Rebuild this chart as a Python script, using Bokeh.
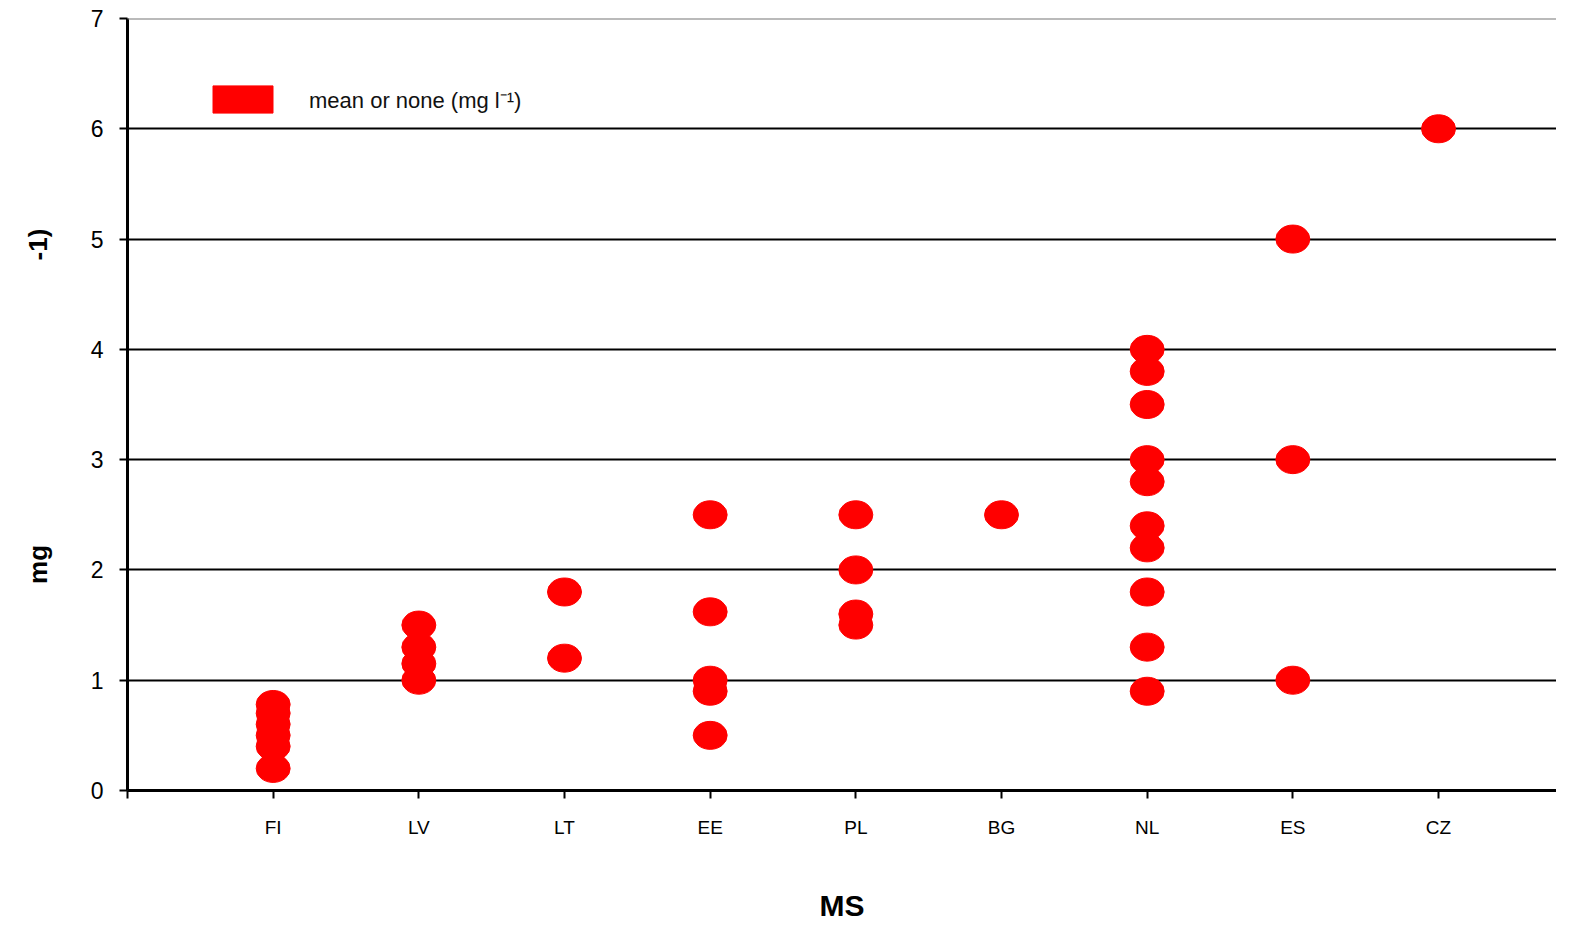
from bokeh.plotting import figure
from bokeh.layouts import row
from bokeh.models import (FixedTicker, Range1d, ColumnDataSource, Legend, LegendItem, Span)
from bokeh.core.properties import value
from bokeh.embed import file_html
from bokeh.resources import INLINE
import math

categories = ["FI", "LV", "LT", "EE", "PL", "BG", "NL", "ES", "CZ"]
values = {
    "FI": [0.2, 0.4, 0.5, 0.6, 0.7, 0.78],
    "LV": [1.0, 1.15, 1.3, 1.5],
    "LT": [1.2, 1.8],
    "EE": [0.5, 0.9, 1.0, 1.62, 2.5],
    "PL": [1.5, 1.6, 2.0, 2.5],
    "BG": [2.5],
    "NL": [0.9, 1.3, 1.8, 2.2, 2.4, 2.8, 3.0, 3.5, 3.8, 4.0],
    "ES": [1.0, 3.0, 5.0],
    "CZ": [6.0],
}
y_ticks = [0, 1, 2, 3, 4, 5, 6, 7]
legend_label = "mean or none (mg l\u207b\u00b9)"
x_title = "MS"
y_title_parts = ["-1)", "mg"]
y_title_pos = [4.95, 2.05]

H = 924
TOP = 18
BOTTOM = 134
LEFTW = 60

xs, ys = [], []
for i, c in enumerate(categories):
    for v in values[c]:
        xs.append(i + 1)
        ys.append(v)
src = ColumnDataSource(dict(x=xs, y=ys))

# left strip carrying the (garbled) y-axis title fragments
left = figure(width=LEFTW, height=H, output_backend="svg", toolbar_location=None,
              x_range=Range1d(0, LEFTW), y_range=Range1d(0, 7),
              min_border_left=0, min_border_right=0, min_border_top=TOP, min_border_bottom=BOTTOM)
left.axis.visible = False
left.grid.visible = False
left.outline_line_color = None
left.text(x=[37] * len(y_title_parts), y=y_title_pos, text=y_title_parts, angle=math.pi / 2,
          text_font=value("Liberation Sans"), text_font_style="bold", text_font_size="26px",
          text_align="center", text_baseline="middle", text_color="black")

p = figure(width=1556 - LEFTW, height=H, output_backend="svg", toolbar_location=None,
           x_range=Range1d(0, 9.81), y_range=Range1d(0, 7),
           min_border_left=127 - LEFTW, min_border_right=0, min_border_top=TOP, min_border_bottom=BOTTOM)
p.outline_line_color = None

p.ellipse(x="x", y="y", width=34, height=28, width_units="screen", height_units="screen",
          source=src, fill_color="#ff0000", line_color="#ff0000")

# legend with rectangle glyph
nan = float("nan")
dummy = p.quad(left=[nan], right=[nan], top=[nan], bottom=[nan], fill_color="#ff0000", line_color="#ff0000")
leg = Legend(items=[LegendItem(label=legend_label, renderers=[dummy])],
             location=(78, 674), glyph_width=75, glyph_height=34, label_standoff=29,
             padding=0, margin=0, border_line_color=None, background_fill_alpha=0,
             label_text_font="Liberation Sans", label_text_font_size="22px", label_text_color="#111111")
p.add_layout(leg, "center")

# grid
p.xgrid.visible = False
p.ygrid.ticker = FixedTicker(ticks=[1, 2, 3, 4, 5, 6])
p.ygrid.grid_line_color = "black"
p.ygrid.grid_line_width = 2
p.add_layout(Span(location=7, dimension="width", line_color="#777777", line_width=2))

# axes
p.xaxis.ticker = FixedTicker(ticks=list(range(0, 10)))
p.xaxis.major_label_overrides = {0: ""} | {i + 1: c for i, c in enumerate(categories)}
p.yaxis.ticker = FixedTicker(ticks=y_ticks)
for ax in (p.xaxis[0], p.yaxis[0]):
    ax.axis_line_color = "black"
    ax.axis_line_width = 3
    ax.major_tick_line_color = "black"
    ax.major_tick_line_width = 2
    ax.major_tick_out = 8
    ax.major_tick_in = 0
    ax.minor_tick_line_color = None
    ax.major_label_text_font = "Liberation Sans"
    ax.major_label_text_color = "black"
p.xaxis.major_label_text_font_size = "19px"
p.xaxis.major_label_standoff = 18
p.yaxis.major_label_text_font_size = "23px"
p.yaxis.major_label_standoff = 16

p.xaxis.axis_label = x_title
p.xaxis.axis_label_text_font = "Liberation Sans"
p.xaxis.axis_label_text_font_style = "bold"
p.xaxis.axis_label_text_font_size = "30px"
p.xaxis.axis_label_text_color = "black"
p.xaxis.axis_label_standoff = 48

open("out.html", "w").write(file_html(row(left, p), INLINE))
